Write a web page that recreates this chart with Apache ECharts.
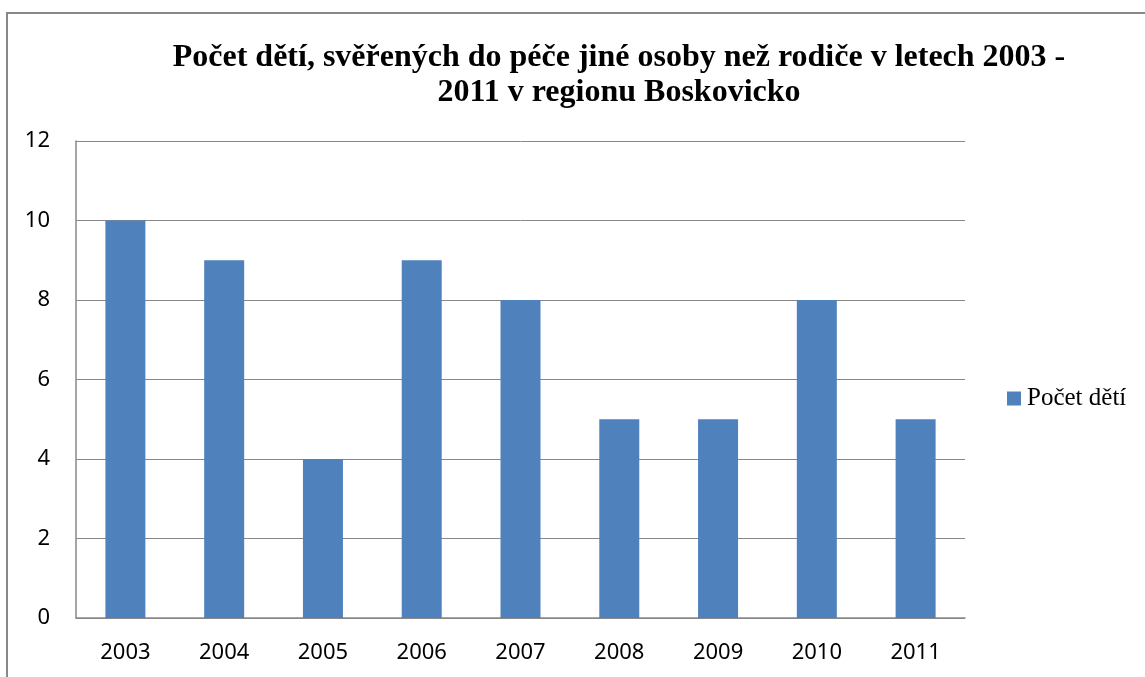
<!DOCTYPE html>
<html><head><meta charset="utf-8">
<script src="https://cdn.jsdelivr.net/npm/echarts@6/dist/echarts.min.js"></script>
<style>html,body{margin:0;padding:0;background:#fff}#c{width:1145px;height:677px}</style>
</head><body><div id="c"></div>
<script>
const categories = ['2003','2004','2005','2006','2007','2008','2009','2010','2011'];
const values = [10, 9, 4, 9, 8, 5, 5, 8, 5];
const seriesName = 'Počet dětí';
const titleText = 'Počet dětí, svěřených do péče jiné osoby než rodiče v letech 2003 -\n2011 v regionu Boskovicko';

const chart = echarts.init(document.getElementById('c'));
chart.setOption({
  animation: false,
  graphic: [{
    type: 'rect', shape: {x: 7, y: 13, width: 1200, height: 700},
    style: {fill: 'none', stroke: '#888', lineWidth: 2}, silent: true
  }],
  title: {
    text: titleText, left: 614, top: 35, textAlign: 'center',
    textStyle: {fontFamily: 'Liberation Serif', fontWeight: 'bold', fontSize: 32, color: '#000', lineHeight: 35}
  },
  legend: {
    data: [seriesName], left: 1002, top: 381, icon: 'rect', itemWidth: 14, itemHeight: 14, itemGap: 4,
    textStyle: {fontFamily: 'Liberation Serif', fontSize: 25, color: '#000', padding: [0,0,0,1]}
  },
  grid: {left: 76, right: 180, top: 141, bottom: 59, containLabel: false},
  xAxis: {
    type: 'category', data: categories,
    axisLine: {lineStyle: {color: '#888', width: 1.5}},
    axisTick: {show: false},
    axisLabel: {fontFamily: 'Noto Sans', fontSize: 22, color: '#000', margin: 24}
  },
  yAxis: {
    type: 'value', min: 0, max: 12, interval: 2,
    axisLine: {show: true, lineStyle: {color: '#888', width: 1.5}},
    axisTick: {show: false},
    splitLine: {lineStyle: {color: '#888', width: 1}},
    axisLabel: {fontFamily: 'Noto Sans', fontSize: 22, color: '#000', margin: 26}
  },
  series: [{
    name: seriesName, type: 'bar', data: values, barWidth: 40,
    itemStyle: {color: '#4F81BD'}
  }]
});
</script></body></html>
